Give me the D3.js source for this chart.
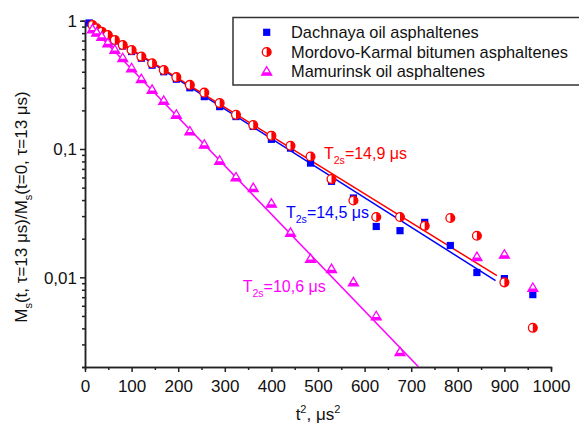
<!DOCTYPE html>
<html>
<head>
<meta charset="utf-8">
<script src="https://cdn.jsdelivr.net/npm/d3@7"></script>
<style>
body { margin: 0; background: #fff; }
text { font-family: "Liberation Sans", Arial, sans-serif; fill: #111; }
</style>
</head>
<body>
<div id="chart"></div>
<script>
// t^2 values (us^2) and normalized magnetization
var dachT2 = [9,16,25,36,49,64,81,100,121,144,169,196,225,256,289,324,361,400,441,484,529,576,625,676,729,784,841,900,961];
var dachM  = [0.96,0.915,0.865,0.81,0.755,0.695,0.635,0.575,0.51,0.45,0.40,0.35,0.30,0.256,0.214,0.179,0.150,0.119,0.1016,0.0777,0.056,0.0415,0.0249,0.0231,0.0268,0.0177,0.0109,0.00977,0.00733];

var mordT2 = [16,25,36,49,64,81,100,121,144,169,196,225,256,289,324,361,400,441,484,529,576,625,676,729,784,841,900,961];
var mordM  = [0.926,0.873,0.821,0.774,0.708,0.647,0.591,0.525,0.466,0.413,0.363,0.316,0.275,0.228,0.185,0.154,0.127,0.106,0.0874,0.0583,0.0397,0.0295,0.0295,0.0252,0.029,0.0211,0.00914,0.00404];

var mamT2 = [16,25,36,49,64,81,100,121,144,169,196,225,256,289,324,361,400,441,484,529,576,625,676,841,900,961];
var mamM  = [0.857,0.807,0.75,0.667,0.592,0.51,0.426,0.35,0.289,0.237,0.185,0.137,0.108,0.081,0.060,0.0496,0.0375,0.0222,0.0139,0.0116,0.00914,0.00497,0.00261,0.0144,0.0150,0.00826];

// exponential fits M = exp(-k t^2), drawn from 0 to fitEnd
var fitNames = ["Dachnaya", "Mordovo", "Mamurinsk"];
var fitRate = [0.005295, 0.005176, 0.00868];
var fitEnd  = [881, 884, 716];
var fitLabel = ["14,5", "14,9", "10,6"];

var legendNames = ["Dachnaya oil asphaltenes", "Mordovo-Karmal bitumen asphaltenes", "Mamurinsk oil asphaltenes"];
var colors = ["#0000ff", "#ff0000", "#ff00ff"];

var xMajor = d3.range(0, 1001, 100);
var xMinor = d3.range(50, 1000, 100);
var yMajor = [0.01, 0.1, 1];
var yMinor = [];
[0.001, 0.01, 0.1].forEach(function(dec){
  d3.range(2, 10).forEach(function(m){ if (m * dec >= 0.002 - 1e-9) yMinor.push(m * dec); });
});

var w = 579, h = 425,
    p = {"top": 20.7, "right": 28, "left": 85, "bot": 58};

var svg = d3.select("#chart").append("svg")
  .attr("width", w)
  .attr("height", h);

var x = d3.scaleLinear().domain([0, 1000]).range([p.left, w - p.right]);
var y = d3.scaleLog().domain([0.002, 1]).range([h - p.bot, p.top]);

svg.append("clipPath").attr("id", "plotclip")
  .append("rect")
    .attr("x", p.left).attr("y", p.top - 5)
    .attr("width", w - p.left - p.right)
    .attr("height", h - p.bot - p.top + 5);

// axes
var xAxis = d3.axisBottom(x).tickValues(xMajor).tickSize(5).tickSizeOuter(0).tickPadding(8)
  .tickFormat(d3.format("d"));
var xMinorAxis = d3.axisBottom(x).tickValues(xMinor).tickSize(3).tickFormat("");
var yAxis = d3.axisLeft(y).tickValues(yMajor).tickSize(5).tickSizeOuter(0).tickPadding(3)
  .tickFormat(function(d){ return d === 1 ? "1" : String(d).replace(".", ","); });
var yMinorAxis = d3.axisLeft(y).tickValues(yMinor).tickSize(3).tickFormat("");

var gx = svg.append("g").attr("class", "axis")
  .attr("transform", "translate(0," + (h - p.bot) + ")")
  .call(xAxis);
svg.append("g").attr("class", "axis")
  .attr("transform", "translate(0," + (h - p.bot) + ")")
  .call(xMinorAxis);
var gy = svg.append("g").attr("class", "axis")
  .attr("transform", "translate(" + p.left + ",0)")
  .call(yAxis);
svg.append("g").attr("class", "axis")
  .attr("transform", "translate(" + p.left + ",0)")
  .call(yMinorAxis);

svg.selectAll(".axis path, .axis line").attr("stroke", "#222").attr("stroke-width", 1.5);
svg.selectAll(".axis text").attr("font-size", 17).attr("fill", "#111")
  .style("font-family", "'Liberation Sans', Arial, sans-serif");
gy.selectAll("text").attr("dy", "0.35em");

// fit lines
var line = d3.line().x(function(d){ return x(d[0]); }).y(function(d){ return y(d[1]); });
var plot = svg.append("g").attr("clip-path", "url(#plotclip)");
fitNames.forEach(function(n, i){
  var pts = [0, fitEnd[i]].map(function(t){ return [t, Math.exp(-fitRate[i] * t)]; });
  plot.append("path")
    .datum(pts)
    .attr("d", line)
    .attr("fill", "none")
    .attr("stroke", colors[i])
    .attr("stroke-width", 1.5);
});

// marker drawers
function square(g, cx, cy){
  g.append("rect").attr("x", cx - 3.6).attr("y", cy - 3.6)
    .attr("width", 7.2).attr("height", 7.2).attr("fill", colors[0]);
}
function halfCircle(g, cx, cy){
  var r = 4.4;
  g.append("circle").attr("cx", cx).attr("cy", cy).attr("r", r)
    .attr("fill", "#fff").attr("stroke", colors[1]).attr("stroke-width", 1.3);
  g.append("path")
    .attr("d", "M" + cx + "," + (cy - r) + "A" + r + "," + r + " 0 0 1 " + cx + "," + (cy + r) + "Z")
    .attr("fill", colors[1]);
}
function halfTriangle(g, cx, cy){
  var hw = 5, top = cy - 5, bot = cy + 3.5, mid = cy + 0.6;
  var mhw = hw * (mid - top) / (bot - top);
  g.append("path")
    .attr("d", "M" + cx + "," + top + "L" + (cx - hw) + "," + bot + "L" + (cx + hw) + "," + bot + "Z")
    .attr("fill", "#fff").attr("stroke", colors[2]).attr("stroke-width", 1.3).attr("stroke-linejoin", "miter");
  g.append("path")
    .attr("d", "M" + (cx - mhw) + "," + mid + "L" + (cx + mhw) + "," + mid + "L" + (cx + hw) + "," + bot + "L" + (cx - hw) + "," + bot + "Z")
    .attr("fill", colors[2]);
}

var marks = svg.append("g");
dachT2.forEach(function(t, i){ square(marks, x(t), y(dachM[i])); });
mordT2.forEach(function(t, i){ halfCircle(marks, x(t), y(mordM[i])); });
mamT2.forEach(function(t, i){ halfTriangle(marks, x(t), y(mamM[i])); });

// legend
var leg = svg.append("g");
leg.append("rect")
  .attr("x", 233).attr("y", 17.5)
  .attr("width", 360).attr("height", 67.5)
  .attr("fill", "#fff").attr("stroke", "#333").attr("stroke-width", 1.5);
var drawers = [square, halfCircle, halfTriangle];
legendNames.forEach(function(n, i){
  var cy = 32.3 + i * 19.7;
  drawers[i](leg, 266.7, cy);
  leg.append("text")
    .attr("x", 291).attr("y", cy + 5.6)
    .attr("font-size", 16.4)
    .text(n);
});

// T2s annotations
var annPos = [[286, 218.3], [324, 159.3], [242.7, 291.7]];
fitLabel.forEach(function(lab, i){
  var t = svg.append("text")
    .attr("x", annPos[i][0]).attr("y", annPos[i][1])
    .attr("font-size", 16)
    .style("fill", colors[i]);
  t.append("tspan").text("T");
  t.append("tspan").attr("font-size", 10.5).attr("dy", 5).text("2s");
  t.append("tspan").attr("dy", -5).text("=" + lab + " \u03bcs");
});

// axis titles
var xt = svg.append("text")
  .attr("x", (x(0) + x(1000)) / 2).attr("y", 420)
  .attr("text-anchor", "middle")
  .attr("font-size", 17);
xt.append("tspan").text("t");
xt.append("tspan").attr("font-size", 11).attr("dy", -7).text("2");
xt.append("tspan").attr("dy", 7).text(", \u03bcs");
xt.append("tspan").attr("font-size", 11).attr("dy", -7).text("2");

var yt = svg.append("text")
  .attr("transform", "translate(27,207) rotate(-90)")
  .attr("text-anchor", "middle")
  .attr("font-size", 17);
yt.append("tspan").text("M");
yt.append("tspan").attr("font-size", 11).attr("dy", 5).text("s");
yt.append("tspan").attr("dy", -5).text("(t, \u03c4=13 \u03bcs)/M");
yt.append("tspan").attr("font-size", 11).attr("dy", 5).text("s");
yt.append("tspan").attr("dy", -5).text("(t=0, \u03c4=13 \u03bcs)");
</script>
</body>
</html>
